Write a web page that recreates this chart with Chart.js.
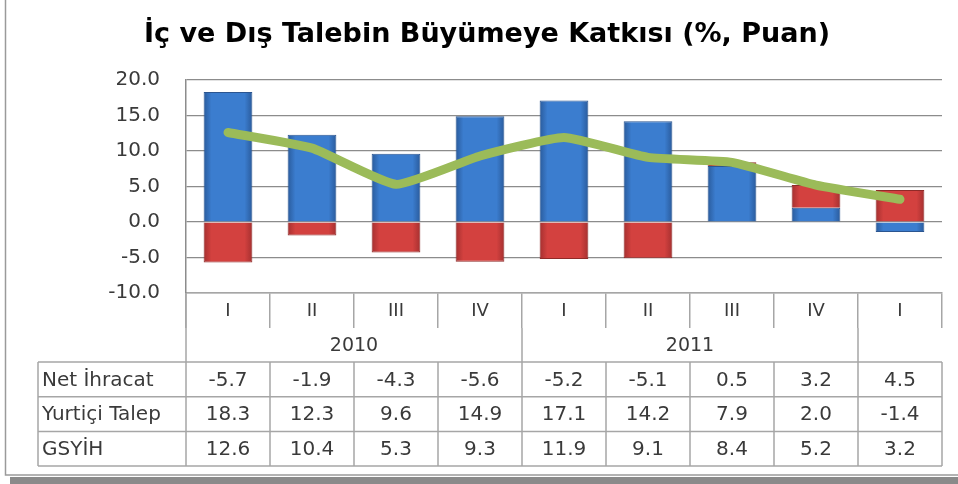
<!DOCTYPE html>
<html>
<head>
<meta charset="utf-8">
<script src="https://cdn.jsdelivr.net/npm/chart.js@4"></script>
<style>
  html, body { margin: 0; padding: 0; background: #fff; }
  #wrap { width: 958px; height: 484px; }
</style>
</head>
<body>
<div id="wrap"><canvas id="chart" width="958" height="484"></canvas></div>
<script>
'use strict';

// data
const quarters = ['I', 'II', 'III', 'IV', 'I', 'II', 'III', 'IV', 'I'];
const yearLabels = ['2010', '2011', ''];
const yearSpans = [4, 4, 1];
const netIhracat = [-5.7, -1.9, -4.3, -5.6, -5.2, -5.1, 0.5, 3.2, 4.5];
const yurticiTalep = [18.3, 12.3, 9.6, 14.9, 17.1, 14.2, 7.9, 2.0, -1.4];
const gsyih = [12.6, 10.4, 5.3, 9.3, 11.9, 9.1, 8.4, 5.2, 3.2];
const rowNames = ['Net İhracat', 'Yurtiçi Talep', 'GSYİH'];

const BAR_PCT = 0.58;
const lineGray = '#a6a6a6';
const textGray = '#3a3a3a';

// horizontal shading for the bars (darker at the edges)
function barGradient(ctx, dark, mid) {
    const chart = ctx.chart;
    const x = chart.scales.x;
    if (!x || ctx.dataIndex === undefined) return mid;
    const step = (x.right - x.left) / quarters.length;
    const cx = x.getPixelForValue(ctx.dataIndex);
    const half = step * BAR_PCT / 2;
    if (!isFinite(cx) || !isFinite(half) || half <= 0) return mid;
    const g = chart.ctx.createLinearGradient(cx - half, 0, cx + half, 0);
    g.addColorStop(0, dark);
    g.addColorStop(0.16, mid);
    g.addColorStop(0.84, mid);
    g.addColorStop(1, dark);
    return g;
}

const dataTable = {
    id: 'dataTable',
    afterDraw(chart) {
        const ctx = chart.ctx;
        const area = chart.chartArea;
        const x = chart.scales.x;
        const step = (area.right - area.left) / quarters.length;
        const qBottom = area.bottom + 35;
        const tTop = qBottom + 34;
        const rowH = 34.7;
        const tBottom = tTop + rowH * rowNames.length;
        const tLeft = 38;

        ctx.save();
        ctx.strokeStyle = lineGray;
        ctx.lineWidth = 1.5;
        ctx.beginPath();
        // left edge of the category columns
        ctx.moveTo(area.left, area.bottom);
        ctx.lineTo(area.left, tBottom);
        // year separators
        let idx = 0;
        yearSpans.forEach(function (span, i) {
            idx += span;
            const bx = area.left + idx * step;
            if (i < yearSpans.length - 1) {
                ctx.moveTo(bx, qBottom);
                ctx.lineTo(bx, tBottom);
            }
        });
        // table grid
        for (let r = 0; r <= rowNames.length; r++) {
            const yy = tTop + r * rowH;
            ctx.moveTo(tLeft, yy);
            ctx.lineTo(area.right, yy);
        }
        ctx.moveTo(tLeft, tTop);
        ctx.lineTo(tLeft, tBottom);
        for (let k = 1; k <= quarters.length; k++) {
            const bx = area.left + k * step;
            ctx.moveTo(bx, tTop);
            ctx.lineTo(bx, tBottom);
        }
        ctx.stroke();

        // year labels
        ctx.fillStyle = textGray;
        ctx.font = '19px "DejaVu Sans"';
        ctx.textAlign = 'center';
        ctx.textBaseline = 'middle';
        idx = 0;
        yearSpans.forEach(function (span, i) {
            const cx = area.left + (idx + span / 2) * step;
            ctx.fillText(yearLabels[i], cx, (qBottom + tTop) / 2 + 1);
            idx += span;
        });

        // table rows
        const rows = [netIhracat, yurticiTalep, gsyih];
        ctx.font = '20px "DejaVu Sans"';
        rows.forEach(function (vals, r) {
            const cy = tTop + r * rowH + rowH / 2 + 1;
            ctx.textAlign = 'left';
            ctx.fillText(rowNames[r], tLeft + 4, cy);
            ctx.textAlign = 'center';
            vals.forEach(function (v, i) {
                ctx.fillText(v.toFixed(1), x.getPixelForValue(i), cy);
            });
        });

        // outer frame with shadow
        ctx.strokeStyle = '#9a9a9a';
        ctx.lineWidth = 1.5;
        ctx.beginPath();
        ctx.moveTo(5.5, 0);
        ctx.lineTo(5.5, 475);
        ctx.lineTo(958, 475);
        ctx.stroke();
        ctx.fillStyle = '#8a8a8a';
        ctx.fillRect(10, 477, 948, 7);
        ctx.restore();
    }
};

new Chart('chart', {
    type: 'bar',
    data: {
        labels: quarters,
        datasets: [{
            type: 'line',
            label: 'GSYİH',
            data: gsyih,
            borderColor: '#9bbb59',
            borderWidth: 9,
            borderCapStyle: 'round',
            borderJoinStyle: 'round',
            pointRadius: 0,
            tension: 0.15,
            fill: false,
            stack: 'line',
            order: 0
        }, {
            label: 'Yurtiçi Talep',
            data: yurticiTalep,
            backgroundColor: function (c) { return barGradient(c, '#2a5b9c', '#3b7dcf'); },
            borderColor: '#2b5590',
            borderWidth: 1,
            stack: 'bars',
            order: 1
        }, {
            label: 'Net İhracat',
            data: netIhracat,
            backgroundColor: function (c) { return barGradient(c, '#a53030', '#d3413f'); },
            borderColor: '#8f2a28',
            borderWidth: 1,
            stack: 'bars',
            order: 1
        }]
    },
    options: {
        responsive: false,
        animation: false,
        datasets: {
            bar: { categoryPercentage: 1, barPercentage: BAR_PCT }
        },
        layout: { padding: { left: 32, right: 16, top: 0, bottom: 0 } },
        plugins: {
            legend: { display: false },
            tooltip: { enabled: false },
            title: {
                display: true,
                text: 'İç ve Dış Talebin Büyümeye Katkısı (%, Puan)',
                color: '#000',
                font: { family: 'DejaVu Sans', size: 27, weight: 'bold' },
                padding: { top: 19, bottom: 28.6 }
            }
        },
        scales: {
            x: {
                stacked: true,
                afterFit: function (s) { s.height = 191; },
                grid: {
                    drawOnChartArea: false,
                    drawTicks: true,
                    tickLength: 35,
                    color: lineGray,
                    lineWidth: 1.5
                },
                border: { color: lineGray, width: 1.5 },
                ticks: {
                    autoSkip: false,
                    maxRotation: 0,
                    padding: -27,
                    color: textGray,
                    font: { family: 'DejaVu Sans', size: 18 }
                }
            },
            y: {
                stacked: true,
                min: -10,
                max: 20,
                afterFit: function (s) { s.width = 154; },
                grid: { color: '#8c8c8c', lineWidth: 1.2, drawTicks: false },
                border: { color: '#8c8c8c', width: 1.5 },
                ticks: {
                    stepSize: 5,
                    padding: 26,
                    color: textGray,
                    font: { family: 'DejaVu Sans', size: 20 },
                    callback: function (v) { return v.toFixed(1); }
                }
            }
        }
    },
    plugins: [dataTable]
});
</script>
</body>
</html>
